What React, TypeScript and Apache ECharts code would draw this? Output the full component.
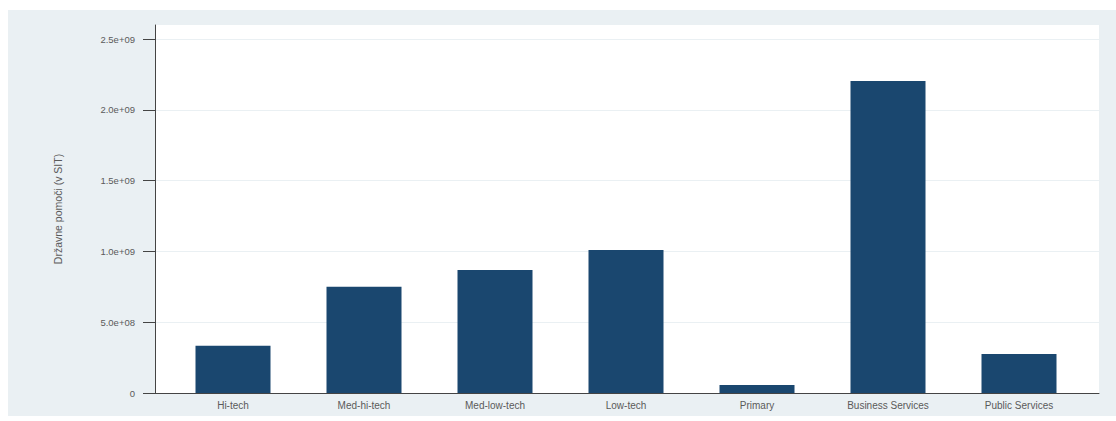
import React, { useEffect, useRef } from "react";
import * as echarts from "echarts";

const categories = [
  "Hi-tech",
  "Med-hi-tech",
  "Med-low-tech",
  "Low-tech",
  "Primary",
  "Business Services",
  "Public Services",
];
const values = [0.334e9, 0.751e9, 0.869e9, 1.01e9, 0.056e9, 2.205e9, 0.275e9];
const yTicks = [0, 5e8, 1e9, 1.5e9, 2e9, 2.5e9];
const yTickLabels = ["0", "5.0e+08", "1.0e+09", "1.5e+09", "2.0e+09", "2.5e+09"];
const yTitle = "Državne pomoči (v SIT)";

const Y_MAX = 2.6e9;

export default function App() {
  const ref = useRef<HTMLDivElement>(null);
  useEffect(() => {
    if (!ref.current) return;
    const chart = echarts.init(ref.current, null, { renderer: "svg" });
    const font = "'Liberation Sans', Arial, sans-serif";
    chart.setOption({
      animation: false,
      backgroundColor: "#ffffff",
      graphic: [
        {
          type: "rect",
          z: -20,
          silent: true,
          shape: { x: 8, y: 10, width: 1108, height: 406 },
          style: { fill: "#eaf0f3" },
        },
        {
          type: "rect",
          z: -19,
          silent: true,
          shape: { x: 155, y: 25, width: 944, height: 368 },
          style: { fill: "#ffffff" },
        },
      ],
      grid: [
        { left: 155, top: 25, width: 944, height: 368, show: false },
        { left: 167.5, top: 25, width: 917, height: 368, show: false },
      ],
      xAxis: [
        {
          type: "value",
          gridIndex: 0,
          min: 0,
          max: 1,
          axisLine: { show: true, lineStyle: { color: "#444", width: 1 } },
          axisTick: { show: false },
          axisLabel: { show: false },
          splitLine: { show: false },
        },
        {
          type: "category",
          gridIndex: 1,
          data: categories,
          axisLine: { show: false },
          axisTick: { show: false },
          axisLabel: {
            color: "#5a5a5a",
            fontSize: 10,
            fontFamily: font,
            margin: 7,
            interval: 0,
          },
        },
      ],
      yAxis: [
        {
          type: "value",
          gridIndex: 0,
          min: 0,
          max: Y_MAX,
          interval: 5e8,
          name: yTitle,
          nameLocation: "middle",
          nameGap: 92,
          nameTextStyle: { color: "#5a5a5a", fontSize: 10.5, fontFamily: font },
          axisLine: { show: true, lineStyle: { color: "#444", width: 1 } },
          axisTick: {
            show: true,
            length: 12,
            lineStyle: { color: "#444" },
            customValues: yTicks,
          },
          axisLabel: {
            color: "#5a5a5a",
            fontSize: 9.5,
            fontFamily: font,
            margin: 20,
            customValues: yTicks,
            formatter: (v: number) => {
              const i = yTicks.indexOf(v);
              return i >= 0 ? yTickLabels[i] : "";
            },
          },
          splitLine: { show: true, lineStyle: { color: "#eaf0f3", width: 1 } },
        },
        {
          type: "value",
          gridIndex: 1,
          min: 0,
          max: Y_MAX,
          interval: 5e8,
          show: false,
          splitLine: { show: false },
        },
      ],
      series: [
        {
          type: "bar",
          xAxisIndex: 1,
          yAxisIndex: 1,
          data: values,
          barWidth: 75,
          itemStyle: { color: "#1a476f" },
        },
      ],
    });
    return () => chart.dispose();
  }, []);
  return (
    <div
      ref={ref}
      style={{ position: "fixed", left: 0, top: 0, width: 1116, height: 421 }}
    />
  );
}
